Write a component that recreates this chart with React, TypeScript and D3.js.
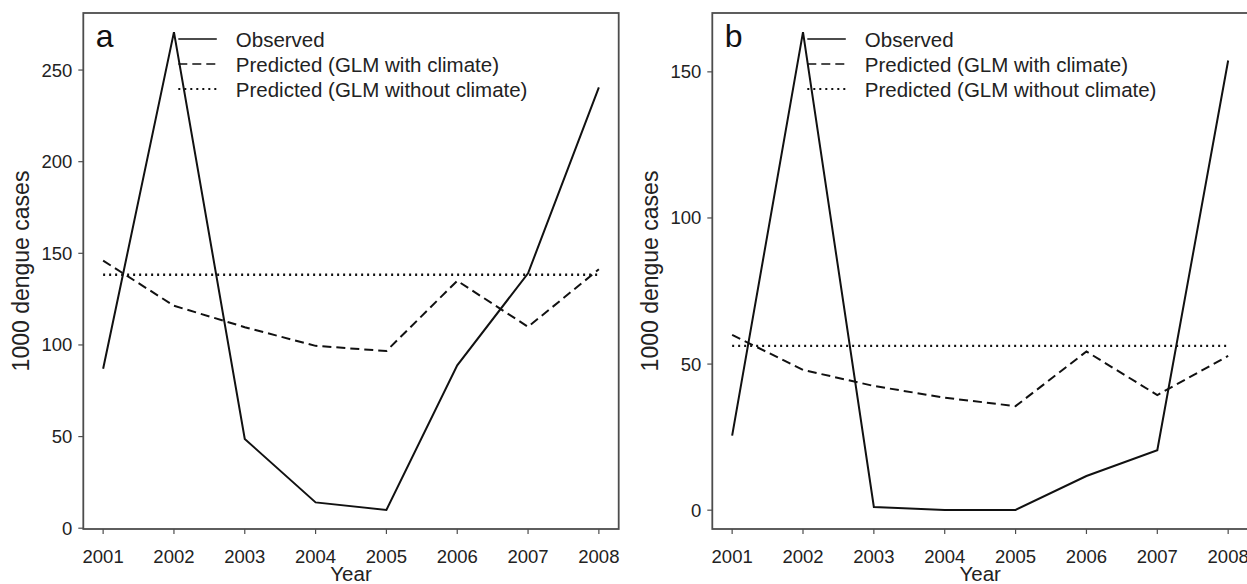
import React from "react";
import * as d3 from "d3";

const years = [2001, 2002, 2003, 2004, 2005, 2006, 2007, 2008];

// panel a
const observedA = [87.0, 270.7, 48.7, 14.1, 10.0, 88.9, 139.1, 240.5];
const withClimateA = [146.0, 121.4, 109.7, 99.5, 96.7, 135.0, 109.9, 141.3];
const withoutClimateA = [138.3, 138.3, 138.3, 138.3, 138.3, 138.3, 138.3, 138.3];
const yTicksA = [0, 50, 100, 150, 200, 250];

// panel b
const observedB = [25.5, 163.6, 1.1, 0.1, 0.1, 11.7, 20.5, 153.9];
const withClimateB = [60.0, 48.0, 42.5, 38.5, 35.6, 54.3, 39.4, 52.8];
const withoutClimateB = [56.2, 56.2, 56.2, 56.2, 56.2, 56.2, 56.2, 56.2];
const yTicksB = [0, 50, 100, 150];

const legendLabels = [
  "Observed",
  "Predicted (GLM with climate)",
  "Predicted (GLM without climate)",
];
const dashes = ["none", "9,5", "2,4"];

const FONT = "'Liberation Sans', Arial, sans-serif";
const W = 1247;
const H = 584;
const TOP = 13;
const BOTTOM = 529;

// R style axis range: data extent padded by 4% each side
function padded(vals: number[]): [number, number] {
  const [lo, hi] = d3.extent(vals) as [number, number];
  const p = (hi - lo) * 0.04;
  return [lo - p, hi + p];
}

type PanelProps = {
  letter: string;
  left: number;
  right: number;
  series: number[][];
  yTicks: number[];
};

const Panel: React.FC<PanelProps> = ({ letter, left, right, series, yTicks }) => {
  const x = d3.scaleLinear().domain(padded(years)).range([left, right]);
  const y = d3.scaleLinear().domain(padded(series.flat())).range([BOTTOM, TOP]);
  const line = d3
    .line<number>()
    .x((_, i) => x(years[i]))
    .y((d) => y(d));

  const axisCol = "#4d4d4d";
  const textCol = "#222";

  return (
    <g fontFamily={FONT}>
      {series.map((s, i) => (
        <path
          key={i}
          d={line(s) || ""}
          fill="none"
          stroke="#111"
          strokeWidth={i === 2 ? 2.3 : 2}
          strokeDasharray={dashes[i]}
        />
      ))}

      <rect
        x={left}
        y={TOP}
        width={right - left}
        height={BOTTOM - TOP}
        fill="none"
        stroke={axisCol}
        strokeWidth={1.8}
      />

      {/* y axis */}
      {yTicks.map((t) => (
        <g key={t}>
          <line x1={left - 5} x2={left} y1={y(t)} y2={y(t)} stroke={axisCol} strokeWidth={1.2} />
          <text
            x={left - 11}
            y={y(t)}
            dy="0.35em"
            textAnchor="end"
            fontSize={18.5}
            fill={textCol}
          >
            {t}
          </text>
        </g>
      ))}

      {/* x axis */}
      {years.map((yr) => (
        <g key={yr}>
          <line x1={x(yr)} x2={x(yr)} y1={BOTTOM} y2={BOTTOM + 5} stroke={axisCol} strokeWidth={1.2} />
          <text x={x(yr)} y={562.5} textAnchor="middle" fontSize={18.5} fill={textCol}>
            {yr}
          </text>
        </g>
      ))}

      <text
        x={(left + right) / 2}
        y={581}
        textAnchor="middle"
        fontSize={20.5}
        fill={textCol}
      >
        Year
      </text>
      <text
        transform={`translate(${left - 54},${(TOP + BOTTOM) / 2}) rotate(-90)`}
        textAnchor="middle"
        fontSize={23}
        fill={textCol}
      >
        1000 dengue cases
      </text>

      <text x={left + 12.5} y={47} fontSize={32} fill="#111">
        {letter}
      </text>

      {/* legend */}
      {legendLabels.map((lab, i) => (
        <g key={lab}>
          <line
            x1={left + 95}
            x2={left + 133.5}
            y1={39 + i * 25}
            y2={39 + i * 25}
            stroke="#111"
            strokeWidth={i === 2 ? 2 : 1.7}
            strokeDasharray={dashes[i]}
          />
          <text x={left + 152.5} y={46.5 + i * 25} fontSize={20.5} fill={textCol}>
            {lab}
          </text>
        </g>
      ))}
    </g>
  );
};

export default function App() {
  return (
    <svg
      width={W}
      height={H}
      style={{ position: "absolute", left: 0, top: 0, background: "#fff" }}
    >
      <rect width={W} height={H} fill="#fff" />
      <Panel
        letter="a"
        left={83.3}
        right={618.7}
        series={[observedA, withClimateA, withoutClimateA]}
        yTicks={yTicksA}
      />
      <Panel
        letter="b"
        left={712.3}
        right={1248}
        series={[observedB, withClimateB, withoutClimateB]}
        yTicks={yTicksB}
      />
    </svg>
  );
}
